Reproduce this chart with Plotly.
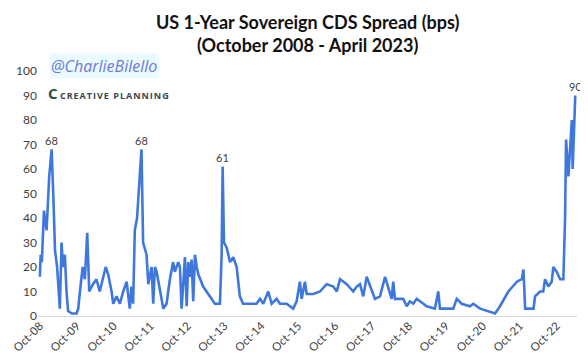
import plotly.graph_objects as go

dates = [
    "2008-10-01", "2008-10-08", "2008-10-20", "2008-11-10", "2008-11-19", "2008-12-06",
    "2009-01-01", "2009-01-25", "2009-02-10", "2009-02-27", "2009-03-20", "2009-04-16",
    "2009-05-03", "2009-05-18", "2009-06-05", "2009-06-21", "2009-07-07", "2009-08-13",
    "2009-09-29", "2009-10-15", "2009-11-01", "2009-11-18", "2009-11-28", "2009-12-20",
    "2010-01-12", "2010-02-01", "2010-03-10", "2010-04-13", "2010-05-16", "2010-07-14",
    "2010-08-07", "2010-09-10", "2010-09-26", "2010-10-29", "2010-12-01", "2011-01-03",
    "2011-02-06", "2011-03-09", "2011-03-26", "2011-04-11", "2011-04-28", "2011-05-20",
    "2011-06-09", "2011-07-03", "2011-07-19", "2011-08-22", "2011-09-08", "2011-10-11",
    "2011-10-27", "2011-11-13", "2011-11-30", "2012-01-01", "2012-02-04", "2012-03-07",
    "2012-04-09", "2012-05-11", "2012-05-28", "2012-06-30", "2012-07-17", "2012-08-03",
    "2012-08-19", "2012-09-05", "2012-09-22", "2012-10-08", "2012-10-24", "2012-11-10",
    "2012-11-26", "2012-12-13", "2012-12-30", "2013-01-15", "2013-03-04", "2013-05-09",
    "2013-06-28", "2013-08-17", "2013-09-03", "2013-09-13", "2013-09-26", "2013-10-22",
    "2013-11-25", "2013-12-27", "2014-01-30", "2014-03-02", "2014-04-04", "2014-06-10",
    "2014-08-15", "2014-09-17", "2014-10-20", "2014-12-08", "2015-01-11", "2015-03-01",
    "2015-04-02", "2015-06-08", "2015-08-12", "2015-09-15", "2015-10-17", "2015-11-04",
    "2015-12-06", "2015-12-23", "2016-02-27", "2016-05-03", "2016-07-08", "2016-09-12",
    "2016-10-16", "2016-11-17", "2017-01-23", "2017-03-28", "2017-05-01", "2017-06-03",
    "2017-07-05", "2017-08-08", "2017-09-27", "2017-10-29", "2017-12-18", "2018-02-06",
    "2018-04-12", "2018-04-28", "2018-05-14", "2018-08-05", "2018-09-08", "2018-10-10",
    "2018-11-12", "2018-12-16", "2019-02-20", "2019-03-24", "2019-06-14", "2019-07-17",
    "2019-08-03", "2019-12-13", "2020-01-16", "2020-03-05", "2020-05-26", "2020-06-28",
    "2020-09-03", "2020-11-09", "2021-01-30", "2021-03-19", "2021-06-10", "2021-09-02",
    "2021-10-21", "2021-11-06", "2021-11-23", "2022-02-14", "2022-03-01", "2022-04-19",
    "2022-05-21", "2022-06-08", "2022-07-10", "2022-08-13", "2022-08-29", "2022-10-02",
    "2022-11-04", "2022-12-06", "2022-12-23", "2023-01-02", "2023-01-25", "2023-02-28",
    "2023-03-08", "2023-04-03",
]
spread_bps = [
    16, 25, 22, 43, 40, 35,
    57, 68, 50, 27, 20, 3,
    30, 20, 25, 10, 2, 1,
    1, 3, 10, 16, 20, 15,
    34, 10, 13, 15, 10, 20,
    17, 10, 5, 8, 5, 10,
    14, 3, 12, 5, 35, 40,
    55, 68, 30, 25, 13, 20,
    5, 20, 18, 10, 3, 5,
    15, 22, 18, 22, 20, 3,
    15, 24, 4, 22, 16, 23,
    6, 25, 20, 17, 12, 8,
    5, 5, 25, 61, 30, 28,
    22, 24, 20, 8, 5, 5,
    5, 7, 5, 10, 5, 7,
    5, 5, 3, 6, 14, 7,
    14, 9, 9, 10, 13, 12,
    10, 15, 13, 10, 12, 13,
    8, 16, 10, 7, 8, 16,
    7, 14, 7, 7, 4, 6,
    5, 7, 5, 4, 3, 10,
    3, 3, 7, 5, 4, 5,
    3, 2, 1, 4, 10, 14,
    15, 19, 3, 3, 8, 10,
    10, 15, 12, 14, 20, 18,
    15, 15, 40, 72, 57, 80,
    60, 90,
]

tick_dates = ["%d-10-01" % y for y in range(2008, 2023)]
tick_labels = ["Oct-%02d" % (y % 100) for y in range(2008, 2023)]

peak_dates = ["2009-01-25", "2011-07-03", "2013-09-13", "2023-04-03"]
peak_values = [68, 68, 61, 90]

title_lines = ["US 1-Year Sovereign CDS Spread (bps)", "(October 2008 - April 2023)"]

fig = go.Figure()
fig.add_trace(go.Scatter(
    x=dates, y=spread_bps, mode="lines",
    line=dict(color="#3f78dc", width=2.6),
    hoverinfo="skip", showlegend=False, cliponaxis=False,
))

for d, v in zip(peak_dates, peak_values):
    fig.add_annotation(
        x=d, y=v, text=str(v), showarrow=False, yshift=9,
        font=dict(family="Lato, Open Sans, sans-serif", size=11, color="#404040"),
    )

for i, line in enumerate(title_lines):
    fig.add_annotation(
        xref="paper", yref="paper", x=0.5, y=1, yanchor="middle",
        yshift=49 - 23 * i,
        text="<b>%s</b>" % line, showarrow=False, align="center",
        font=dict(family="Lato, Open Sans, sans-serif", size=18, color="#111111"),
    )

# watermark
fig.add_annotation(
    xref="paper", yref="paper", x=0.02, y=1.02, xanchor="left", yanchor="middle",
    text="<i>@CharlieBilello</i>", showarrow=False,
    bgcolor="#eafbff",
    font=dict(family="Open Sans, sans-serif", size=16, color="#6f78d2"),
)
fig.add_annotation(
    xref="paper", yref="paper", x=0.015, y=0.91, xanchor="left", yanchor="middle",
    text="<span style='font-size:15px;color:#2d4f3c'><b>C</b></span> <b><span style='letter-spacing:1px'>CREATIVE PLANNING</span></b>",
    showarrow=False,
    font=dict(family="Open Sans, sans-serif", size=9, color="#3a4650"),
)

# page body has an 8px default margin: the figure is sized/margined to compensate
fig.update_layout(
    width=580, height=355,
    margin=dict(l=30, r=11, t=63, b=47, autoexpand=False),
    paper_bgcolor="white", plot_bgcolor="white",
    font=dict(family="Lato, Open Sans, sans-serif", color="#333333"),
    xaxis=dict(
        type="date", automargin=False,
        range=["2008-09-12", "2023-04-20"],
        tickvals=tick_dates, ticktext=tick_labels, tickangle=-45,
        tickfont=dict(size=11.5, color="#404040"),
        showgrid=False, showline=False, zeroline=False, ticks="",
    ),
    yaxis=dict(
        range=[0, 100], tickvals=list(range(0, 101, 10)), automargin=False,
        tickfont=dict(size=12, color="#404040"),
        showgrid=False, zeroline=True, zerolinecolor="#d9d9d9", zerolinewidth=1,
        showline=False, ticks="",
    ),
)

fig.write_html("out.html")
